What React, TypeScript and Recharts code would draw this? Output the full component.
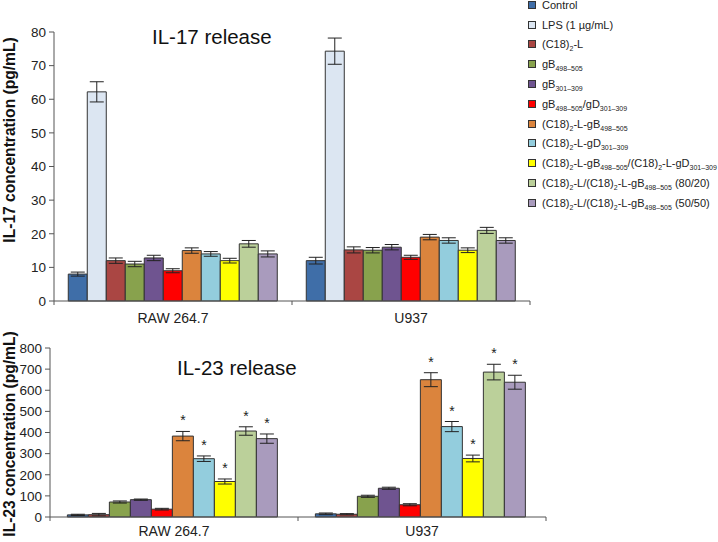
import React from "react"
import { BarChart, Bar, XAxis, YAxis, ErrorBar, LabelList } from "recharts"

const FONT = '"Liberation Sans", Arial, Helvetica, sans-serif'

const cellLines = ["RAW 264.7", "U937"]

// "_{...}" marks a subscript in the legend text
const treatmentLabels = [
  "Control",
  "LPS (1 µg/mL)",
  "(C18)_{2}-L",
  "gB_{498–505}",
  "gB_{301–309}",
  "gB_{498–505}/gD_{301–309}",
  "(C18)_{2}-L-gB_{498–505}",
  "(C18)_{2}-L-gD_{301–309}",
  "(C18)_{2}-L-gB_{498–505}/(C18)_{2}-L-gD_{301–309}",
  "(C18)_{2}-L/(C18)_{2}-L-gB_{498–505} (80/20)",
  "(C18)_{2}-L/(C18)_{2}-L-gB_{498–505} (50/50)",
]

const treatmentColors = [
  "#3F6EA8",
  "#DCE6F2",
  "#AA4643",
  "#88A24D",
  "#6F5490",
  "#FF0000",
  "#DB843D",
  "#93CDDD",
  "#FFFF00",
  "#BBD09A",
  "#A99BBD",
]

// IL-17 (pg/mL), one value per treatment
const il17Raw = [8, 62.2, 12, 11, 12.8, 9, 15, 14, 12, 17, 14]
const il17RawErr = [0.6, 3, 0.8, 0.8, 0.8, 0.6, 0.8, 0.7, 0.7, 1, 0.9]
const il17U937 = [12, 74.3, 15.2, 15.1, 16, 13, 19, 18, 15.1, 21, 18]
const il17U937Err = [1, 3.9, 0.9, 0.8, 0.8, 0.6, 0.8, 0.8, 0.7, 0.9, 0.8]

// IL-23 (pg/mL), LPS not measured
const il23Raw = [10, null, 11, 71, 82, 37, 383, 276, 168, 407, 371]
const il23RawErr = [3, null, 6, 5, 3, 4, 22, 13, 12, 20, 22]
const il23U937 = [15, null, 13, 98, 136, 58, 650, 428, 277, 686, 638]
const il23U937Err = [4, null, 3, 5, 5, 5, 33, 24, 16, 37, 33]
const il23Significant = [false, false, false, false, false, false, true, true, true, true, true]

const il17Ticks = [0, 10, 20, 30, 40, 50, 60, 70, 80]
const il23Ticks = [0, 100, 200, 300, 400, 500, 600, 700, 800]

function buildRows(values: (number | null)[][], errors: (number | null)[][]) {
  return cellLines.map((cell, ci) => {
    const row: Record<string, any> = { cell }
    treatmentLabels.forEach((_, ti) => {
      row[`t${ti}`] = values[ci][ti]
      row[`t${ti}Err`] = errors[ci][ti]
    })
    return row
  })
}

const il17Data = buildRows([il17Raw, il17U937], [il17RawErr, il17U937Err])
const il23Data = buildRows([il23Raw, il23U937], [il23RawErr, il23U937Err])
const il23Errors = [il23RawErr, il23U937Err]

function RichLabel({ text }: { text: string }) {
  const parts = text.split(/(_\{[^}]*\})/).filter(Boolean)
  return (
    <>
      {parts.map((p, i) =>
        p.startsWith("_{") ? (
          <span key={i} style={{ fontSize: 7, position: "relative", top: 3 }}>
            {p.slice(2, -1)}
          </span>
        ) : (
          <span key={i}>{p}</span>
        )
      )}
    </>
  )
}

// category label plus tick marks at the band edges
function makeCellTick(halfBand: number, labelDy: number) {
  return (props: any) => {
    const { x, y, payload, index, visibleTicksCount } = props
    const last = index === visibleTicksCount - 1
    return (
      <g>
        <line x1={x - halfBand} x2={x - halfBand} y1={y} y2={y + 4} stroke="#555" />
        {last && <line x1={x + halfBand} x2={x + halfBand} y1={y} y2={y + 4} stroke="#555" />}
        <text x={x} y={y + labelDy} textAnchor="middle" fontSize={14} fill="#222" fontFamily={FONT}>
          {payload.value}
        </text>
      </g>
    )
  }
}

function makeStar(ti: number) {
  return (props: any) => {
    const { x, y, width, height, value, index } = props
    const err = il23Errors[index]?.[ti] ?? 0
    const errPx = value ? (err * height) / value : 0
    return (
      <text
        x={x + width / 2}
        y={y - errPx - 6}
        textAnchor="middle"
        fontSize={14}
        fontFamily={FONT}
        style={{ fill: "#222", stroke: "none" }}
      >
        *
      </text>
    )
  }
}

const tickStyle = { fontSize: 13.5, fill: "#222", fontFamily: FONT }

const yLabelStyle: React.CSSProperties = {
  position: "absolute",
  width: 260,
  height: 18,
  lineHeight: "18px",
  textAlign: "center",
  transform: "rotate(-90deg)",
  fontSize: 15.6,
  fontWeight: "bold",
  color: "#111",
  whiteSpace: "nowrap",
}

export default function App() {
  const il23Series = treatmentLabels.map((_, ti) => ti).filter((ti) => il23Raw[ti] !== null)

  return (
    <div style={{ position: "fixed", left: 0, top: 0, width: 718, height: 542, background: "#fff", fontFamily: FONT, overflow: "hidden" }}>
      {/* IL-17 panel */}
      <div style={{ position: "absolute", left: 0, top: 0 }}>
        <BarChart width={540} height={330} data={il17Data} margin={{ top: 32, right: 10, bottom: 5, left: 0 }} barCategoryGap="6%" barGap={0}>
          <XAxis dataKey="cell" height={24} axisLine={{ stroke: "#555" }} tickLine={false} tickSize={0} tickMargin={0} interval={0} tick={makeCellTick(119, 22)} />
          <YAxis width={54} domain={[0, 80]} ticks={il17Ticks} axisLine={{ stroke: "#555" }} tickLine={{ stroke: "#555" }} tickSize={5} tickMargin={3} tick={tickStyle} />
          {treatmentLabels.map((_, ti) => (
            <Bar key={ti} dataKey={`t${ti}`} fill={treatmentColors[ti]} stroke="#333" strokeWidth={1} isAnimationActive={false}>
              <ErrorBar dataKey={`t${ti}Err`} width={7} stroke="#222" strokeWidth={1} direction="y" isAnimationActive={false} />
            </Bar>
          ))}
        </BarChart>
      </div>

      {/* IL-23 panel */}
      <div style={{ position: "absolute", left: 0, top: 330 }}>
        <BarChart width={556} height={212} data={il23Data} margin={{ top: 18, right: 10, bottom: 1, left: 0 }} barCategoryGap="7%" barGap={0}>
          <XAxis dataKey="cell" height={24} axisLine={{ stroke: "#555" }} tickLine={false} tickSize={0} tickMargin={0} interval={0} tick={makeCellTick(124, 19)} />
          <YAxis width={50} domain={[0, 800]} ticks={il23Ticks} axisLine={{ stroke: "#555" }} tickLine={{ stroke: "#555" }} tickSize={5} tickMargin={3} tick={tickStyle} />
          {il23Series.map((ti) => (
            <Bar key={ti} dataKey={`t${ti}`} fill={treatmentColors[ti]} stroke="#333" strokeWidth={1} isAnimationActive={false}>
              <ErrorBar dataKey={`t${ti}Err`} width={7} stroke="#222" strokeWidth={1} direction="y" isAnimationActive={false} />
              {il23Significant[ti] && <LabelList dataKey={`t${ti}`} content={makeStar(ti)} />}
            </Bar>
          ))}
        </BarChart>
      </div>

      {/* titles */}
      <div style={{ position: "absolute", left: 152, top: 25, fontSize: 20.5, color: "#111", whiteSpace: "nowrap" }}>IL-17 release</div>
      <div style={{ position: "absolute", left: 177, top: 356, fontSize: 20.5, color: "#111", whiteSpace: "nowrap" }}>IL-23 release</div>

      {/* y-axis labels */}
      <div style={{ ...yLabelStyle, left: 10 - 130, top: 140 - 9 }}>IL-17 concentration (pg/mL)</div>
      <div style={{ ...yLabelStyle, left: 10 - 130, top: 434 - 9 }}>IL-23 concentration (pg/mL)</div>

      {/* legend */}
      <div style={{ position: "absolute", left: 528, top: -5 }}>
        {treatmentLabels.map((label, ti) => (
          <div key={ti} style={{ height: 19.8, display: "flex", alignItems: "center", whiteSpace: "nowrap", fontSize: 11, color: "#222" }}>
            <span style={{ display: "inline-block", width: 6, height: 6, background: treatmentColors[ti], border: "1px solid #333", marginRight: 6 }} />
            <span>
              <RichLabel text={label} />
            </span>
          </div>
        ))}
      </div>
    </div>
  )
}
